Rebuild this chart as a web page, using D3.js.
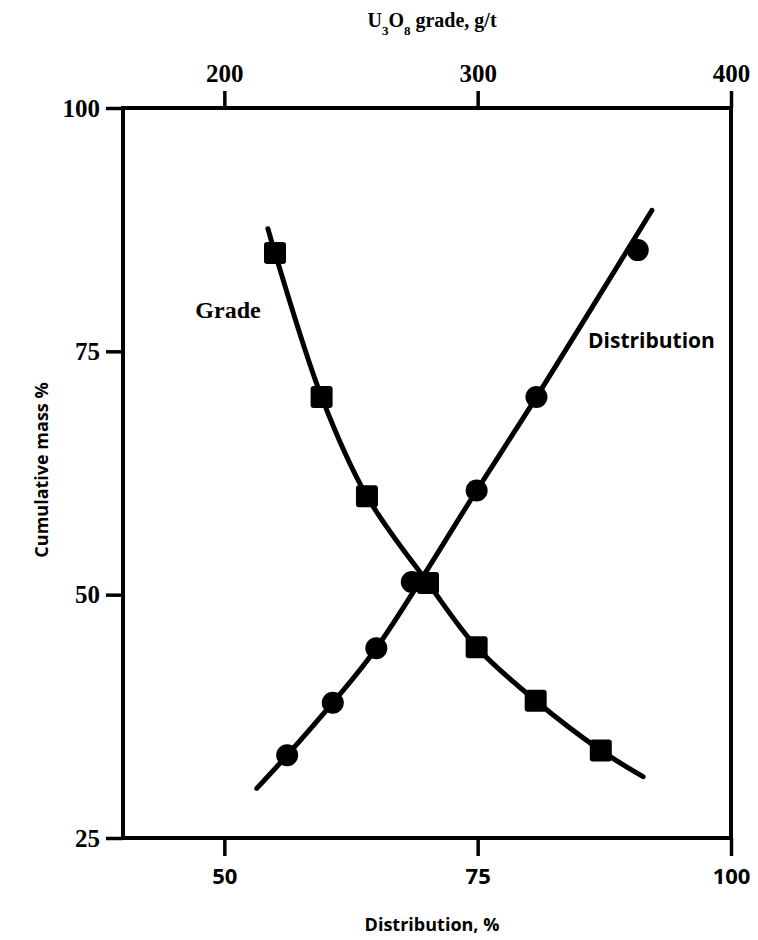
<!DOCTYPE html>
<html>
<head>
<meta charset="utf-8">
<script src="https://cdn.jsdelivr.net/npm/d3@7"></script>
<style>
  html, body { margin: 0; padding: 0; background: #fff; }
  .serif { font-family: "Liberation Serif", "DejaVu Serif", serif; font-weight: bold; }
  .sans { font-family: "Open Sans", "Liberation Sans", sans-serif; font-weight: 700; }
</style>
</head>
<body>
<div id="chart"></div>
<script>
(function () {
  // grade curve (squares), top axis: U3O8 grade g/t vs cumulative mass %
  var gradeValues = [220.0, 238.4, 256.3, 280.4, 299.6, 322.9, 348.6];
  var gradeMass = [85.1, 70.3, 60.1, 51.2, 44.6, 39.1, 34.0];
  // the drawn line runs a little past the first and last marker
  var gradeLineStart = { g: 217.2, m: 87.6 };
  var gradeLineEnd = { g: 365.3, m: 31.3 };

  // distribution curve (circles), bottom axis: distribution % vs cumulative mass %
  var distValues = [56.2, 60.7, 65.0, 68.5, 74.9, 80.8, 90.8];
  var distMass = [33.5, 38.9, 44.5, 51.3, 60.7, 70.3, 85.4];
  // the hand-drawn line, read along its own path (top circle sits off it)
  var distLineD = [53.2, 56.2, 60.7, 65.0, 74.9, 80.8, 92.2];
  var distLineM = [30.1, 33.5, 38.9, 44.5, 60.7, 70.3, 89.5];

  var massTicks = [25, 50, 75, 100];
  var distTicks = [50, 75, 100];
  var gradeTicks = [200, 300, 400];

  var W = 758, H = 940;
  var box = { left: 123, right: 731, top: 108, bottom: 838 };

  var svg = d3.select('#chart').append('svg')
    .attr('width', W)
    .attr('height', H);

  var xDist = d3.scaleLinear().domain([40, 100]).range([box.left, box.right]);
  var xGrade = d3.scaleLinear().domain([160, 400]).range([box.left, box.right]);
  var y = d3.scaleLinear().domain([25, 100]).range([box.bottom, box.top]);

  function styleAxis(g, cls, size) {
    g.attr('font-size', null).attr('font-family', null);
    g.select('.domain').remove();
    g.selectAll('.tick line').attr('stroke', '#000').attr('stroke-width', 3.5);
    g.selectAll('.tick text')
      .attr('fill', '#000')
      .attr('class', cls)
      .style('font-size', size + 'px');
  }

  // frame
  svg.append('rect')
    .attr('x', box.left).attr('y', box.top)
    .attr('width', box.right - box.left)
    .attr('height', box.bottom - box.top)
    .attr('fill', 'none')
    .attr('stroke', '#000')
    .attr('stroke-width', 4);

  // left axis
  var yAxisG = svg.append('g')
    .attr('transform', 'translate(' + box.left + ',0)')
    .call(d3.axisLeft(y).tickValues(massTicks).tickSize(17).tickPadding(6));
  styleAxis(yAxisG, 'serif', 25);

  // bottom axis
  var xAxisG = svg.append('g')
    .attr('transform', 'translate(0,' + box.bottom + ')')
    .call(d3.axisBottom(xDist).tickValues(distTicks).tickSize(18).tickPadding(12));
  styleAxis(xAxisG, 'sans', 22);

  // top axis
  var topAxisG = svg.append('g')
    .attr('transform', 'translate(0,' + box.top + ')')
    .call(d3.axisTop(xGrade).tickValues(gradeTicks).tickSize(17).tickPadding(9));
  styleAxis(topAxisG, 'serif', 25);

  // axis titles
  svg.append('text')
    .attr('class', 'serif')
    .attr('x', 432).attr('y', 27)
    .attr('text-anchor', 'middle')
    .style('font-size', '20px')
    .html('U<tspan baseline-shift="sub" font-size="13px">3</tspan>O<tspan baseline-shift="sub" font-size="13px">8</tspan> grade, g/t');

  svg.append('text')
    .attr('class', 'sans')
    .attr('x', 432).attr('y', 931)
    .attr('text-anchor', 'middle')
    .style('font-size', '18px')
    .text('Distribution, %');

  svg.append('text')
    .attr('class', 'sans')
    .attr('transform', 'translate(48,470) rotate(-90)')
    .attr('text-anchor', 'middle')
    .style('font-size', '18px')
    .text('Cumulative mass %');

  // curves
  var gradePts = [gradeLineStart].concat(gradeValues.map(function (g, i) {
    return { g: g, m: gradeMass[i] };
  })).concat([gradeLineEnd]);
  var distPts = distLineD.map(function (d, i) {
    return { d: d, m: distLineM[i] };
  });

  var gradeLine = d3.line()
    .x(function (p) { return xGrade(p.g); })
    .y(function (p) { return y(p.m); })
    .curve(d3.curveCatmullRom.alpha(0.5));
  var distLine = d3.line()
    .x(function (p) { return xDist(p.d); })
    .y(function (p) { return y(p.m); })
    .curve(d3.curveCatmullRom.alpha(0.5));

  svg.append('path').datum(gradePts)
    .attr('d', gradeLine)
    .attr('fill', 'none').attr('stroke', '#000')
    .attr('stroke-width', 5).attr('stroke-linecap', 'round');
  svg.append('path').datum(distPts)
    .attr('d', distLine)
    .attr('fill', 'none').attr('stroke', '#000')
    .attr('stroke-width', 5).attr('stroke-linecap', 'round');

  // markers
  svg.append('g').selectAll('circle')
    .data(distValues)
    .enter().append('circle')
    .attr('cx', function (d) { return xDist(d); })
    .attr('cy', function (d, i) { return y(distMass[i]); })
    .attr('r', 11)
    .attr('fill', '#000');

  var sq = 22;
  svg.append('g').selectAll('rect')
    .data(gradeValues)
    .enter().append('rect')
    .attr('x', function (g) { return xGrade(g) - sq / 2; })
    .attr('y', function (g, i) { return y(gradeMass[i]) - sq / 2; })
    .attr('width', sq).attr('height', sq)
    .attr('rx', 3).attr('ry', 3)
    .attr('fill', '#000');

  // curve labels
  svg.append('text')
    .attr('class', 'serif')
    .attr('x', 228).attr('y', 318)
    .attr('text-anchor', 'middle')
    .style('font-size', '24px')
    .text('Grade');

  svg.append('text')
    .attr('class', 'sans')
    .attr('x', 588).attr('y', 348)
    .style('font-size', '21px')
    .text('Distribution');
})();
</script>
</body>
</html>
